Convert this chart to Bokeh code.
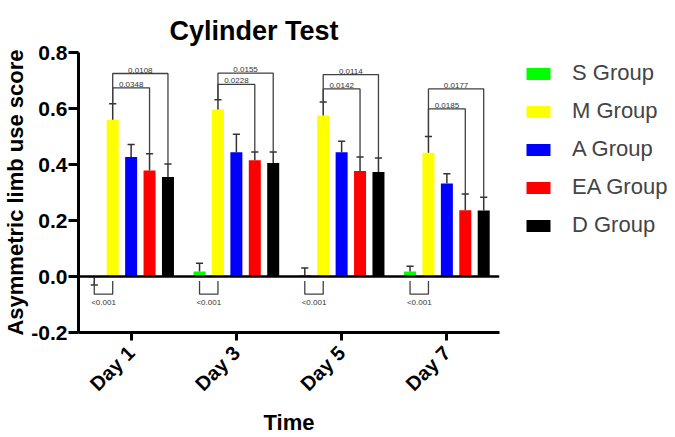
import math
from bokeh.plotting import figure
from bokeh.models import FixedTicker, Legend, LegendItem, Span, PrintfTickFormatter
from bokeh.embed import file_html
from bokeh.resources import INLINE
from bokeh.core.properties import value

days = ["Day 1", "Day 3", "Day 5", "Day 7"]
groups = ["S Group", "M Group", "A Group", "EA Group", "D Group"]
colors = ["#00ff00", "#ffff00", "#0000ff", "#ff0000", "#000000"]

s_mean = [-0.004, 0.018, 0.005, 0.018]
s_err = [0.026, 0.029, 0.025, 0.019]
m_mean = [0.560, 0.596, 0.575, 0.442]
m_err = [0.057, 0.035, 0.048, 0.058]
a_mean = [0.427, 0.444, 0.444, 0.332]
a_err = [0.044, 0.064, 0.039, 0.035]
ea_mean = [0.379, 0.415, 0.377, 0.237]
ea_err = [0.059, 0.030, 0.050, 0.058]
d_mean = [0.355, 0.405, 0.373, 0.236]
d_err = [0.047, 0.040, 0.050, 0.047]

# significance: M vs D (outer), M vs EA (inner), S vs M (below)
p_md = ["0.0108", "0.0155", "0.0114", "0.0177"]
y_md = [0.725, 0.726, 0.721, 0.670]
p_mea = ["0.0348", "0.0228", "0.0142", "0.0185"]
y_mea = [0.674, 0.686, 0.670, 0.599]
p_sm = ["<0.001", "<0.001", "<0.001", "<0.001"]
y_sm_top = -0.016
y_sm = -0.063
y_sm_label = -0.078

means = [s_mean, m_mean, a_mean, ea_mean, d_mean]
errs = [s_err, m_err, a_err, ea_err, d_err]
offsets = [-0.35, -0.175, 0.0, 0.175, 0.35]
bar_w = 0.114
cap_w = 0.034

FONT = "Liberation Sans"

p = figure(frame_width=421, frame_height=280, x_range=(0, 4), y_range=(-0.2, 0.8),
           output_backend="svg", toolbar_location=None,
           min_border_left=70, min_border_right=168, min_border_top=52, min_border_bottom=89)
p.background_fill_color = "white"
p.border_fill_color = "white"
p.outline_line_color = None
p.grid.visible = False

renderers = []
tops = []
for gi in range(5):
    xs = [i + 0.5 + offsets[gi] for i in range(4)]
    r = p.vbar(x=xs, top=means[gi], bottom=0, width=bar_w, fill_color=colors[gi], line_color=None)
    renderers.append(r)
    t = [m + (e if m >= 0 else -e) for m, e in zip(means[gi], errs[gi])]
    tops.append(t)
    p.segment(x0=xs, y0=means[gi], x1=xs, y1=t, line_color="#333333", line_width=1.5)
    p.segment(x0=[x - cap_w for x in xs], y0=t, x1=[x + cap_w for x in xs], y1=t,
              line_color="#333333", line_width=1.5)

p.add_layout(Span(location=0, dimension="width", line_color="black", line_width=2.5))

# brackets
bx, by = [], []
lx, ly, lt = [], [], []
for i in range(4):
    xm = i + 0.5 + offsets[1]
    xea = i + 0.5 + offsets[3]
    xd = i + 0.5 + offsets[4]
    xs_ = i + 0.5 + offsets[0]
    bx.append([xm, xm, xd, xd]); by.append([tops[1][i], y_md[i], y_md[i], tops[4][i]])
    bx.append([xm, xm, xea, xea]); by.append([tops[1][i], y_mea[i], y_mea[i], tops[3][i]])
    bx.append([xs_, xs_, xm, xm]); by.append([y_sm_top, y_sm, y_sm, y_sm_top])
    lx += [(xm + xd) / 2, (xm + xea) / 2]
    ly += [y_md[i], y_mea[i]]
    lt += [p_md[i], p_mea[i]]
p.multi_line(xs=bx, ys=by, line_color="#404040", line_width=1.3)
p.text(x=lx, y=ly, text=lt, text_font=value(FONT), text_font_size="8px",
       text_align="center", text_baseline="bottom", y_offset=-1, text_color="#333333")
p.text(x=[i + 0.5 + (offsets[0] + offsets[1]) / 2 for i in range(4)], y=[y_sm_label] * 4, text=p_sm,
       text_font=value(FONT), text_font_size="8px", text_align="center", text_baseline="top",
       text_color="#333333")

# axes
p.yaxis.ticker = FixedTicker(ticks=[-0.2, 0.0, 0.2, 0.4, 0.6, 0.8])
p.yaxis.formatter = PrintfTickFormatter(format="%.1f")
p.xaxis.ticker = FixedTicker(ticks=[0.5, 1.5, 2.5, 3.5])
p.xaxis.major_label_overrides = {0.5: days[0], 1.5: days[1], 2.5: days[2], 3.5: days[3]}
p.xaxis.major_label_orientation = math.pi / 4
for ax in (p.xaxis, p.yaxis):
    ax.axis_line_width = 3
    ax.axis_line_color = "black"
    ax.major_tick_line_width = 3
    ax.major_tick_line_color = "black"
    ax.major_tick_in = 0
    ax.minor_tick_out = 0
    ax.minor_tick_in = 0
    ax.major_label_text_font = FONT
    ax.major_label_text_font_style = "bold"
    ax.major_label_text_color = "black"
    ax.major_label_text_line_height = 1.0
    ax.axis_label_text_font = FONT
    ax.axis_label_text_font_style = "bold"
    ax.axis_label_text_font_size = "22px"
    ax.axis_label_text_color = "black"
    ax.axis_label_text_line_height = 1.0
p.yaxis.major_tick_out = 10
p.yaxis.major_label_standoff = 1
p.yaxis.major_label_text_font_size = "21px"
p.yaxis.axis_label = "Asymmetric limb use score"
p.yaxis.axis_label_standoff = 0
p.xaxis.major_tick_out = 8
p.xaxis.major_label_standoff = 9
p.xaxis.major_label_text_font_size = "20px"
p.xaxis.axis_label = "Time"
p.xaxis.axis_label_standoff = 4

p.title.text = "Cylinder Test"
p.title.text_font = FONT
p.title.text_font_style = "bold"
p.title.text_font_size = "27px"
p.title.text_color = "black"
p.title.align = "left"
p.title.offset = 91
p.title.standoff = 14

legend = Legend(items=[LegendItem(label=g, renderers=[r]) for g, r in zip(groups, renderers)],
                location=(24, 94), glyph_width=30, glyph_height=15, label_height=15, label_standoff=19,
                label_text_font=FONT, label_text_font_size="22px", spacing=12,
                padding=0, margin=0, border_line_color=None, background_fill_alpha=0)
p.add_layout(legend, "right")

open("out.html", "w").write(file_html(p, INLINE))
